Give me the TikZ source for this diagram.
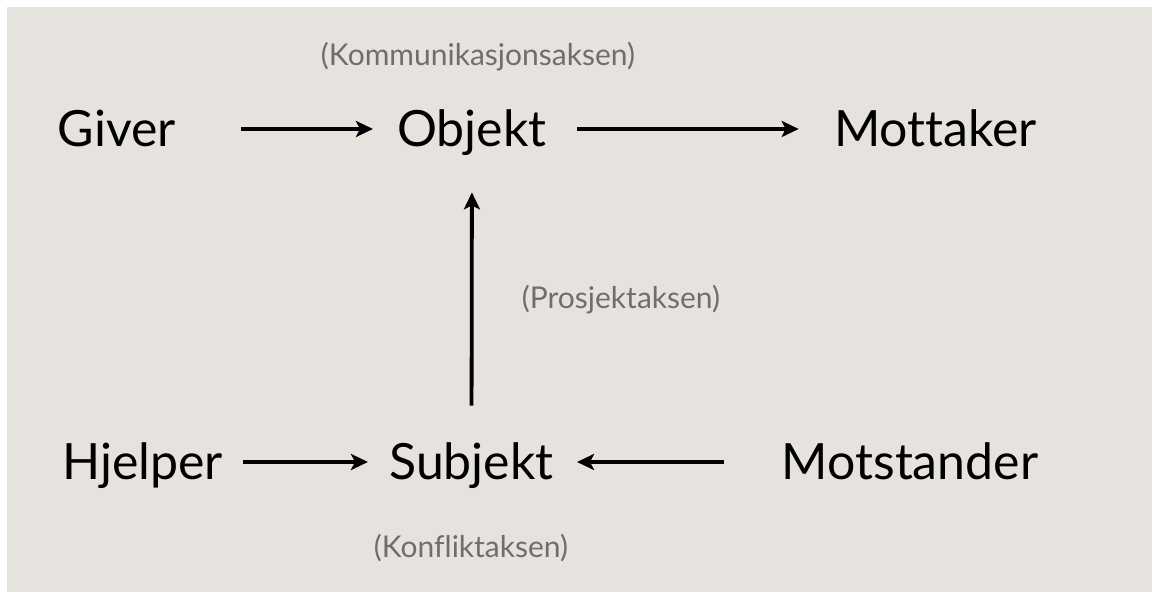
\documentclass[tikz,border=0pt]{standalone}
\usepackage{fontspec}
\setmainfont{Lato}[Ligatures={NoCommon,NoContextual,NoRequired}]
\usetikzlibrary{arrows.meta}
\definecolor{slidebg}{HTML}{E6E3DE}
\definecolor{axisgray}{HTML}{6E6E6E}
\tikzset{
  actant/.style={inner sep=0pt, anchor=base, text height=18pt, text depth=0pt, font=\fontsize{25}{30}\selectfont},
  axislabel/.style={inner sep=0pt, text=axisgray, font=\fontsize{15}{18}\selectfont},
  relation/.style={-{Stealth[length=8.5pt,width=8pt,inset=2pt]}, line width=1.9pt}
}
\begin{document}
\begin{tikzpicture}[x=0.5pt,y=0.5pt]
  \useasboundingbox (0,0) rectangle (1152,592);
  \fill[slidebg] (7,0) rectangle (1152,585);

  % actants
  \node[actant] (giver) at (117,445) {Giver};
  \node[actant] (objekt) at (472,445) {Objekt};
  \node[actant] (mottaker) at (935.5,445) {Mottaker};
  \node[actant] (hjelper) at (142.5,112) {Hjelper};
  \node[actant] (subjekt) at (471.5,112) {Subjekt};
  \node[actant] (motstander) at (910,112) {Motstander};

  % axes
  \node[axislabel] (kommaks) at (478,535) {(Kommunikasjonsaksen)};
  \node[axislabel] (prosaks) at (621,292) {(Prosjektaksen)};
  \node[axislabel] (konfaks) at (471,44) {(Konfliktaksen)};

  \draw[relation, shorten <=32.5pt, shorten >=12pt] (giver.east) -- (objekt.west);
  \draw[relation, shorten <=15pt, shorten >=17.5pt] (objekt.east) -- (mottaker.west);
  \draw[relation, shorten <=10pt, shorten >=10.5pt] (hjelper.east) -- (subjekt.west);
  \draw[relation, shorten <=28.5pt, shorten >=11.5pt] (motstander.west) -- (subjekt.east);
  \draw[relation, shorten <=19pt, shorten >=22.5pt] (subjekt.north) -- (objekt.south);
\end{tikzpicture}
\end{document}
